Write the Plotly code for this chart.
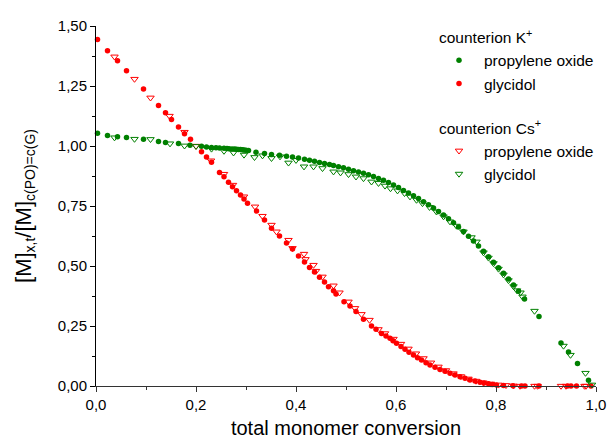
import plotly.graph_objects as go

# K+ propylene oxide (green filled circles)
k_po_x = [0.003,0.023,0.043,0.061,0.095,0.125,0.139,0.165,0.188,0.211,0.221,0.231,0.240,0.247,0.256,0.262,0.266,0.272,0.277,0.281,0.285,0.289,0.293,0.296,0.300,0.305,
          0.320,0.337,0.351,0.367,0.381,0.393,0.405,0.417,0.427,0.437,0.447,0.457,0.467,0.475,0.485,0.495,0.505,0.515,0.525,0.535,0.545,0.555,0.565,0.575,0.585,0.595,
          0.605,0.615,0.625,0.635,0.645,0.655,0.665,0.675,0.685,0.695,0.705,0.715,0.725,0.735,0.745,0.755,0.765,0.775,0.785,0.795,0.805,0.815,0.825,0.835,0.845,0.857,
          0.886,0.930,0.945,0.963,0.985]
k_po_y = [1.053,1.044,1.039,1.035,1.028,1.019,1.015,1.010,1.003,0.999,0.996,0.994,0.993,0.992,0.991,0.990,0.989,0.988,0.987,0.986,0.985,0.985,0.984,0.983,0.982,0.981,
          0.974,0.969,0.965,0.961,0.957,0.954,0.950,0.945,0.941,0.936,0.931,0.927,0.923,0.919,0.914,0.909,0.903,0.897,0.892,0.886,0.880,0.873,0.865,0.857,0.848,0.838,
          0.827,0.815,0.804,0.793,0.781,0.768,0.755,0.742,0.727,0.712,0.697,0.680,0.662,0.644,0.624,0.604,0.583,0.561,0.539,0.516,0.493,0.470,0.446,0.421,0.395,0.3625,
          0.290,0.179,0.142,0.094,0.024]

# K+ glycidol (red filled circles)
k_g_x = [0.003,0.023,0.043,0.061,0.095,0.125,0.139,0.151,0.165,0.177,0.189,0.211,0.221,0.231,0.247,0.256,0.265,0.273,0.281,0.289,0.296,0.303,0.321,0.337,0.351,
         0.367,0.381,0.393,0.405,0.417,0.427,0.437,0.447,0.457,0.465,0.475,0.480,0.496,0.508,0.520,0.535,0.551,0.560,0.571,0.580,0.588,0.594,0.601,0.610,0.618,0.626,
         0.635,0.643,0.651,0.660,0.668,0.678,0.688,0.698,0.708,0.718,0.728,0.738,0.748,0.758,0.768,0.776,0.785,0.793,0.801,0.815,0.834,0.851,0.858,0.886,0.943,0.950,
         0.961,0.990]
k_g_y = [1.444,1.397,1.355,1.314,1.2375,1.169,1.139,1.110,1.079,1.051,1.028,0.976,0.954,0.932,0.890,0.872,0.849,0.830,0.814,0.796,0.779,0.761,0.729,0.692,0.657,
         0.625,0.596,0.571,0.542,0.517,0.494,0.475,0.453,0.433,0.414,0.397,0.383,0.351,0.333,0.310,0.278,0.250,0.236,0.219,0.208,0.199,0.189,0.178,0.165,0.153,0.141,
         0.129,0.118,0.108,0.097,0.0875,0.078,0.069,0.061,0.053,0.046,0.039,0.032,0.025,0.021,0.016,0.012,0.009,0.006,0.004,0.002,0.001,0.0,0.0,0.0,0.0,0.0,
         0.0,0.0]

# Cs+ propylene oxide (red open triangles)
cs_po_x = [0.037,0.077,0.109,0.147,0.177,0.200,0.230,0.256,0.274,0.296,0.318,0.333,0.351,0.361,0.385,0.393,0.416,0.419,0.435,0.440,0.453,0.475,0.487,0.505,0.518,
           0.531,0.547,0.565,0.578,0.595,0.610,0.625,0.640,0.655,0.670,0.685,0.700,0.715,0.730,0.745,0.760,0.775,0.790,0.805,0.820,0.835,0.848,0.877,0.883,0.930,
           0.940,0.977,0.980]
cs_po_y = [1.372,1.279,1.201,1.125,1.058,1.000,0.939,0.883,0.8375,0.789,0.747,0.708,0.671,0.643,0.608,0.574,0.550,0.528,0.504,0.479,0.455,0.418,0.389,0.351,0.324,
           0.299,0.275,0.236,0.219,0.196,0.175,0.155,0.135,0.115,0.097,0.080,0.065,0.052,0.040,0.030,0.021,0.014,0.009,0.005,0.003,0.001,0.0,0.0,0.0,0.0,
           0.0,0.0,0.0]

# Cs+ glycidol (green open triangles)
cs_g_x = [0.037,0.077,0.109,0.148,0.177,0.200,0.231,0.256,0.275,0.296,0.317,0.333,0.351,0.368,0.385,0.400,0.416,0.435,0.453,0.475,0.489,0.505,0.520,0.535,0.551,
          0.565,0.578,0.589,0.603,0.617,0.628,0.641,0.653,0.667,0.681,0.695,0.708,0.721,0.735,0.751,0.761,0.775,0.785,0.795,0.805,0.815,0.825,0.835,0.842,0.849,
          0.853,0.877,0.935,0.949,0.979,0.992]
cs_g_y = [1.035,1.029,1.028,1.010,1.001,0.999,0.988,0.979,0.972,0.963,0.953,0.960,0.949,0.956,0.930,0.941,0.914,0.914,0.907,0.893,0.889,0.882,0.872,0.865,0.851,
          0.845,0.834,0.823,0.814,0.803,0.789,0.775,0.761,0.745,0.726,0.706,0.685,0.667,0.643,0.619,0.601,0.556,0.534,0.511,0.488,0.464,0.440,0.415,0.398,0.389,
          0.372,0.3125,0.167,0.129,0.054,0.005]

GREEN = "#008000"
RED = "#ff0000"

fig = go.Figure()
fig.add_trace(go.Scatter(x=k_po_x, y=k_po_y, mode="markers", name="propylene oxide",
                         legendgroup="K", legendgrouptitle=dict(text="counterion K<sup>+</sup>"),
                         marker=dict(symbol="circle", size=5.5, color=GREEN), cliponaxis=False))
fig.add_trace(go.Scatter(x=k_g_x, y=k_g_y, mode="markers", name="glycidol",
                         legendgroup="K",
                         marker=dict(symbol="circle", size=5.5, color=RED), cliponaxis=False))
fig.add_trace(go.Scatter(x=cs_po_x, y=cs_po_y, mode="markers", name="propylene oxide",
                         legendgroup="Cs", legendgrouptitle=dict(text="counterion Cs<sup>+</sup>"),
                         marker=dict(symbol="triangle-down-open", size=6.5, color=RED, line=dict(width=1)),
                         cliponaxis=False))
fig.add_trace(go.Scatter(x=cs_g_x, y=cs_g_y, mode="markers", name="glycidol",
                         legendgroup="Cs",
                         marker=dict(symbol="triangle-down-open", size=6.5, color=GREEN, line=dict(width=1)),
                         cliponaxis=False))

fig.update_layout(
    width=616, height=439,
    margin=dict(l=96, r=20, t=26, b=53),
    paper_bgcolor="white", plot_bgcolor="white",
    separators=", ",
    font=dict(family="Liberation Sans, Arial, sans-serif", size=15, color="#000000"),
    showlegend=True,
    legend=dict(x=0.676, y=1.015, xanchor="left", yanchor="top",
                font=dict(size=15.5, color="#000000"),
                grouptitlefont=dict(size=15.5, color="#000000"),
                tracegroupgap=21, bgcolor="rgba(0,0,0,0)",
                itemwidth=40),
    xaxis=dict(range=[0, 1], tickvals=[0, 0.2, 0.4, 0.6, 0.8, 1.0], tickformat=".1f",
               automargin=False,
               showgrid=False, zeroline=False, showline=True, linecolor="#333333", linewidth=1,
               ticks="outside", ticklen=5, tickcolor="#333333",
               minor=dict(tickvals=[0.1, 0.3, 0.5, 0.7, 0.9], ticks="outside", ticklen=3, tickcolor="#333333"),
               title=dict(text="total monomer conversion", font=dict(size=20)),
               tickfont=dict(size=15)),
    yaxis=dict(range=[0, 1.5], tickvals=[0, 0.25, 0.5, 0.75, 1.0, 1.25, 1.5], tickformat=".2f",
               automargin=False,
               showgrid=False, zeroline=False, showline=True, linecolor="#000000", linewidth=1,
               ticks="outside", ticklen=5, tickcolor="#000000",
               minor=dict(tickvals=[0.125, 0.375, 0.625, 0.875, 1.125, 1.375], ticks="outside", ticklen=3, tickcolor="#000000"),
               title=dict(text="[M]<sub><span style='font-size:14px'>x,t</span></sub>/[M]<sub><span style='font-size:14px'>c(PO)=c(G)</span></sub>",
                          font=dict(size=22), standoff=20),
               tickfont=dict(size=15)),
)

fig.write_html("out.html")
